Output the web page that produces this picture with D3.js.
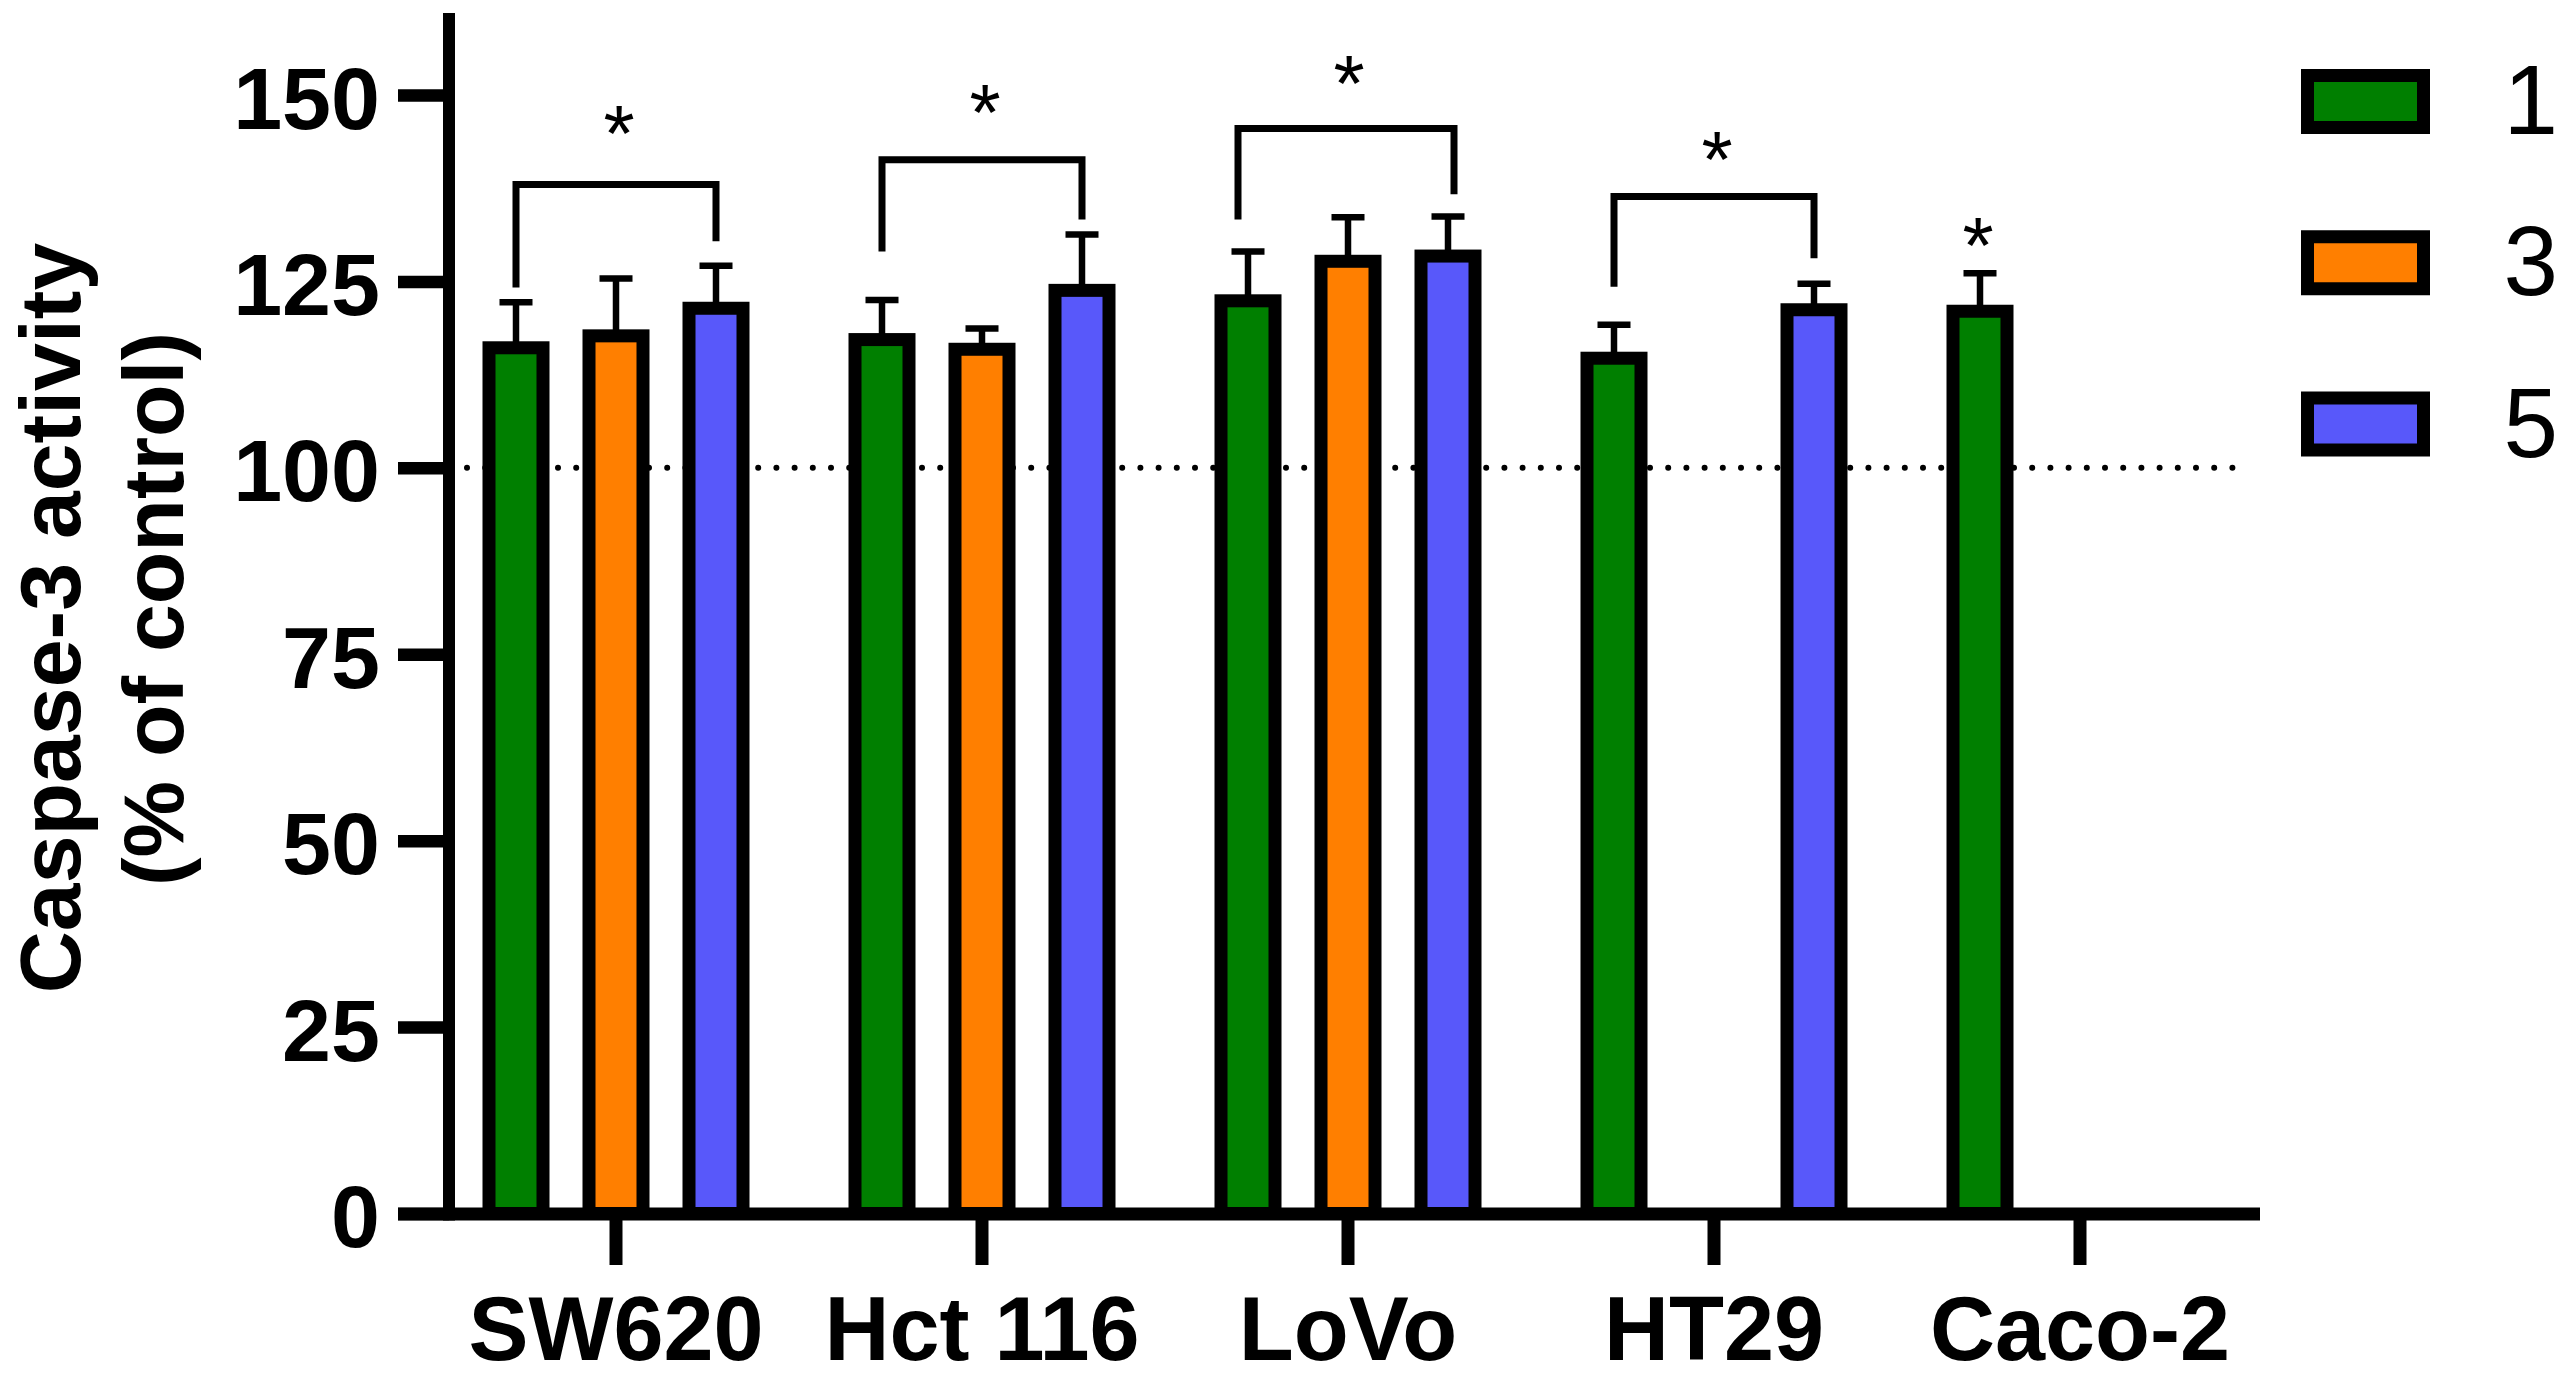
<!DOCTYPE html>
<html>
<head>
<meta charset="utf-8">
<script src="https://cdn.jsdelivr.net/npm/d3@7"></script>
<style>
  body { margin: 0; background: #fff; }
  text { font-family: "Liberation Sans", Arial, sans-serif; }
</style>
</head>
<body>
<div id="vis"></div>
<script>
// cell lines on the x axis
const cellLines = ['SW620', 'Hct 116', 'LoVo', 'HT29', 'Caco-2'];
// the three treatment series (legend labels)
const seriesNames = ['1', '3', '5'];
const seriesColors = ['#007f00', '#ff7f00', '#5858fa'];

// mean caspase-3 activity (% of control), null = not measured
const means1 = [116.1, 117.2, 122.4, 114.7, 121.0];
const means3 = [117.7, 115.9, 127.7, null, null];
const means5 = [121.4, 123.8, 128.4, 121.2, null];
// error (upper bar only)
const err1 = [6.1, 5.3, 6.6, 4.5, 5.1];
const err3 = [7.7, 2.8, 5.9, null, null];
const err5 = [5.7, 7.5, 5.3, 3.5, null];

const yTicks = [0, 25, 50, 75, 100, 125, 150];

// significance brackets between series 1 and 5
const bracketCells = ['SW620', 'Hct 116', 'LoVo', 'HT29'];
const bracketTop = [138.0, 141.3, 145.5, 136.4];
const bracketLeft = [124.2, 129.0, 133.3, 124.3];
const bracketRight = [130.4, 133.3, 136.7, 128.1];
const bracketStar = [147.2, 150.1, 154.0, 143.8];
// single star above Caco-2 series 1
const singleStarCell = 'Caco-2';
const singleStarValue = 132.2;

const width = 2572;
const height = 1380;

const svg = d3.select('#vis')
    .append('svg')
    .attr('width', width)
    .attr('height', height);

const x = d3.scaleBand()
    .domain(cellLines)
    .range([433, 2263]);

// offset of each series inside a group
const xSub = d3.scaleBand()
    .domain(seriesNames)
    .range([-150, 150]);

const y = d3.scaleLinear()
    .domain([0, 150])
    .range([1213.5, 95]);

const center = (cell, s) => x(cell) + x.bandwidth() / 2 + xSub(s) + xSub.bandwidth() / 2;

// table built from the arrays above
const meanArr = [means1, means3, means5];
const errArr = [err1, err3, err5];
const bars = [];
seriesNames.forEach((s, si) => {
    cellLines.forEach((c, ci) => {
        if (meanArr[si][ci] != null) {
            bars.push({cell: c, series: s, color: seriesColors[si], mean: meanArr[si][ci], err: errArr[si][ci]});
        }
    });
});

// dotted line at 100%
svg.append('line')
    .attr('x1', 467)
    .attr('x2', 2245)
    .attr('y1', y(100))
    .attr('y2', y(100))
    .style('stroke', '#000')
    .style('stroke-width', 6)
    .style('stroke-linecap', 'round')
    .style('stroke-dasharray', '0 18.2');

// error bars
const eb = svg.append('g');
eb.selectAll('line.err')
    .data(bars)
    .join('line')
    .attr('class', 'err')
    .attr('x1', d => center(d.cell, d.series))
    .attr('x2', d => center(d.cell, d.series))
    .attr('y1', d => y(d.mean))
    .attr('y2', d => y(d.mean + d.err))
    .style('stroke', '#000')
    .style('stroke-width', 6.5);
eb.selectAll('line.cap')
    .data(bars)
    .join('line')
    .attr('class', 'cap')
    .attr('x1', d => center(d.cell, d.series) - 16.5)
    .attr('x2', d => center(d.cell, d.series) + 16.5)
    .attr('y1', d => y(d.mean + d.err))
    .attr('y2', d => y(d.mean + d.err))
    .style('stroke', '#000')
    .style('stroke-width', 6.5);

// bars
svg.append('g')
    .selectAll('rect')
    .data(bars)
    .join('rect')
    .attr('x', d => center(d.cell, d.series) - 27)
    .attr('width', 54)
    .attr('y', d => y(d.mean))
    .attr('height', d => y(0) - y(d.mean))
    .style('fill', d => d.color)
    .style('stroke', '#000')
    .style('stroke-width', 13);

// brackets (LoVo bracket sits a bit wider than its bars)
const legNudge = {'LoVo': [-10, 6]};
const brackets = bracketCells.map((c, i) => {
    const n = legNudge[c] || [0, 0];
    return {
        cell: c, top: bracketTop[i], left: bracketLeft[i], right: bracketRight[i], star: bracketStar[i],
        xl: center(c, '1') + n[0], xr: center(c, '5') + n[1]
    };
});
svg.append('g')
    .selectAll('path')
    .data(brackets)
    .join('path')
    .attr('d', d => `M${d.xl},${y(d.left)}V${y(d.top)}H${d.xr}V${y(d.right)}`)
    .style('fill', 'none')
    .style('stroke', '#000')
    .style('stroke-width', 7);

// stars
const stars = brackets.map(d => ({x: (d.xl + d.xr) / 2 + 3, v: d.star}));
stars.push({x: center(singleStarCell, '1') - 2, v: singleStarValue});
svg.append('g')
    .selectAll('text')
    .data(stars)
    .join('text')
    .attr('x', d => d.x)
    .attr('y', d => y(d.v))
    .attr('dy', '0.57em')
    .attr('text-anchor', 'middle')
    .style('font-size', '80px')
    .text('*');

// y axis ticks + labels
const yAxis = svg.append('g')
    .attr('transform', 'translate(449,0)')
    .call(d3.axisLeft(y).tickValues(yTicks).tickSize(51).tickPadding(18).tickSizeOuter(0));
yAxis.select('.domain').remove();
yAxis.selectAll('.tick line').style('stroke-width', 12.5);
yAxis.selectAll('.tick text')
    .attr('dy', '0.375em')
    .style('font-size', '88px')
    .style('font-weight', 'bold')
    .style('font-family', '"Liberation Sans", Arial, sans-serif')
    .style('fill', '#000');

// x axis ticks + labels
const xAxis = svg.append('g')
    .attr('transform', 'translate(0,1214)')
    .call(d3.axisBottom(x).tickSize(51).tickPadding(31).tickSizeOuter(0));
xAxis.select('.domain').remove();
xAxis.selectAll('.tick line').style('stroke-width', 13);
xAxis.selectAll('.tick text')
    .style('font-size', '90px')
    .style('font-weight', 'bold')
    .style('font-family', '"Liberation Sans", Arial, sans-serif')
    .style('fill', '#000');

// axis lines
svg.append('line')
    .attr('x1', 449).attr('x2', 449)
    .attr('y1', 13).attr('y2', 1220.5)
    .style('stroke', '#000')
    .style('stroke-width', 12);
svg.append('line')
    .attr('x1', 398).attr('x2', 2260)
    .attr('y1', 1214).attr('y2', 1214)
    .style('stroke', '#000')
    .style('stroke-width', 13);

// y axis title
svg.append('text')
    .attr('transform', 'translate(80,618) rotate(-90)')
    .attr('text-anchor', 'middle')
    .style('font-size', '86px')
    .style('font-weight', 'bold')
    .text('Caspase-3 activity');
svg.append('text')
    .attr('transform', 'translate(183,609) rotate(-90)')
    .attr('text-anchor', 'middle')
    .style('font-size', '86px')
    .style('font-weight', 'bold')
    .text('(% of control)');

// legend
const legend = svg.append('g')
    .selectAll('g')
    .data(seriesNames)
    .join('g')
    .attr('transform', (d, i) => `translate(2307.5,${101.5 + i * 161.25})`);
legend.append('rect')
    .attr('x', 0)
    .attr('y', -26)
    .attr('width', 116)
    .attr('height', 52)
    .style('fill', (d, i) => seriesColors[i])
    .style('stroke', '#000')
    .style('stroke-width', 13);
legend.append('text')
    .attr('x', 196)
    .attr('y', 32.5)
    .style('font-size', '98px')
    .text(d => d);
</script>
</body>
</html>
